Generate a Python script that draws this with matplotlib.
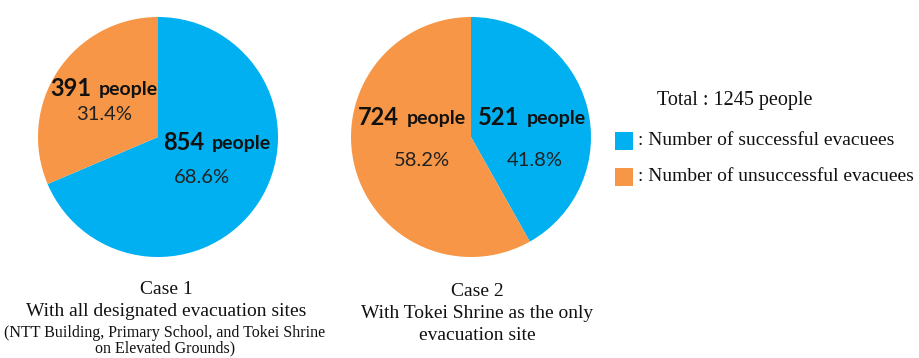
import matplotlib
matplotlib.use("Agg")
import matplotlib.pyplot as plt
from matplotlib.patches import Rectangle

# Evacuation simulation results (people)
cases = ["Case 1", "Case 2"]
successful = [854, 521]
unsuccessful = [391, 724]
total = 1245

case_titles = [
    ["Case 1", "With all designated evacuation sites"],
    ["Case 2", "With Tokei Shrine as the only", "evacuation site"],
]
case1_note = ["(NTT Building, Primary School, and Tokei Shrine", "on Elevated Grounds)"]
legend_labels = [": Number of successful evacuees", ": Number of unsuccessful evacuees"]

BLUE = "#00B0F0"
ORANGE = "#F79646"
W, H = 920, 358

fig = plt.figure(figsize=(W / 100, H / 100), dpi=100)
ax = fig.add_axes([0, 0, 1, 1])


def Y(py):
    return H - py


centers = [(158, 137), (471, 137)]
radius = 120

for i, (cx, cy) in enumerate(centers):
    ax.pie([successful[i], unsuccessful[i]], colors=[BLUE, ORANGE],
           startangle=90, counterclock=False, center=(cx, Y(cy)),
           radius=radius, wedgeprops=dict(linewidth=0))

ax.set_xlim(0, W)
ax.set_ylim(0, H)
ax.set_aspect("equal")
ax.axis("off")

SANS = ["Lato", "DejaVu Sans"]
SERIF = ["Liberation Serif", "DejaVu Serif"]


def count_label(x_split, py, value):
    ax.text(x_split, Y(py), f"{value}", ha="right", va="center",
            fontsize=17, fontweight="bold", family=SANS, color="#111111")
    ax.text(x_split + 8, Y(py) - 1, "people", ha="left", va="center",
            fontsize=14, fontweight="bold", family=SANS, color="#111111")


def pct_label(px, py, value):
    ax.text(px, Y(py), f"{value / total * 100:.1f}%", ha="center", va="center",
            fontsize=14.5, family=SANS, color="#222222")


# Case 1 labels
count_label(91, 88, unsuccessful[0])
pct_label(104, 115, unsuccessful[0])
count_label(204, 143, successful[0])
pct_label(202, 178, successful[0])

# Case 2 labels
count_label(399, 118, unsuccessful[1])
pct_label(422, 161, unsuccessful[1])
count_label(519, 118, successful[1])
pct_label(535, 161, successful[1])

# Captions under the pies
cap_ys = [290, 312]
for j, line in enumerate(case_titles[0]):
    ax.text(166, Y(cap_ys[j]), line, ha="center", va="center",
            fontsize=14, family=SERIF, color="#111111")
for j, line in enumerate(case1_note):
    ax.text(165, Y(333 + j * 15), line, ha="center", va="center",
            fontsize=11.5, family=SERIF, color="#111111")
for j, line in enumerate(case_titles[1]):
    ax.text(477, Y(291 + j * 22.5), line, ha="center", va="center",
            fontsize=14, family=SERIF, color="#111111")

# Legend
ax.text(735, Y(100), f"Total : {total} people", ha="center", va="center",
        fontsize=14.5, family=SERIF, color="#111111")
for k, (col, lab) in enumerate(zip([BLUE, ORANGE], legend_labels)):
    yc = 141 + k * 36
    ax.add_patch(Rectangle((615, Y(yc + 9)), 18, 18, facecolor=col,
                           edgecolor="none"))
    ax.text(638, Y(yc), lab, ha="left", va="center",
            fontsize=14, family=SERIF, color="#111111")

fig.savefig("out.png", dpi=100)
